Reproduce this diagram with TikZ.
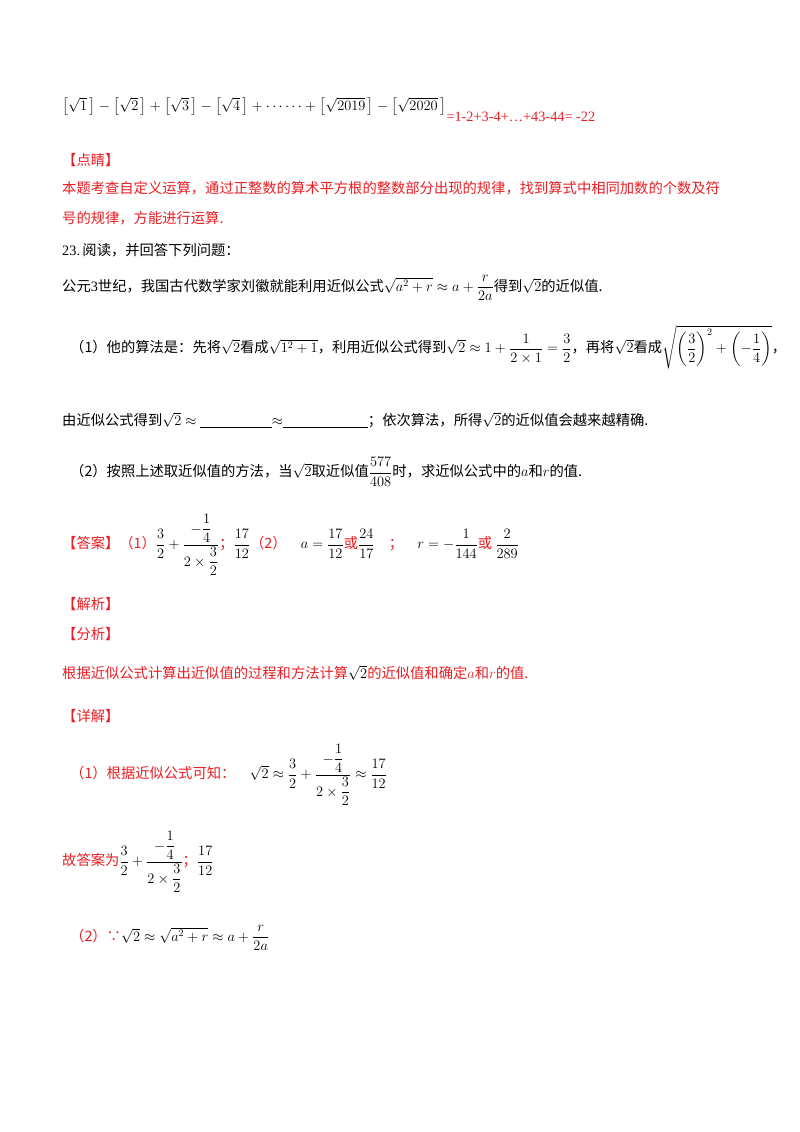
\documentclass[tikz,border=0pt]{standalone}
\usepackage{amsmath}
\usepackage{fontspec}
\setmainfont{Noto Sans CJK SC}
\newfontfamily\lat{Liberation Serif}
\definecolor{ared}{RGB}{235,30,35}
\newcommand{\fl}[1]{\left[\sqrt{#1}\,\right]}
\begin{document}
\begin{tikzpicture}[x=1pt,y=-1pt,
  txt/.style={anchor=west,inner sep=0pt,font=\fontsize{14.3}{17}\selectfont},
  rtxt/.style={txt,text=ared}]
\useasboundingbox[fill=white] (0,0) rectangle (800,1132);
\node[txt] (l1) at (62,106) {$\fl{1}-\fl{2}+\fl{3}-\fl{4}+\cdots\cdots+\fl{2019}-\fl{2020}$};
\node[rtxt,anchor=west] (l1b) at (l1.east|-0,117) {\lat =1-2+3-4+…+43-44= -22};
\node[rtxt] (dj) at (62,160) {【点睛】};
\node[rtxt] (t1) at (62,188) {本题考查自定义运算，通过正整数的算术平方根的整数部分出现的规律，找到算式中相同加数的个数及符};
\node[rtxt] (t2) at (62,218) {号的规律，方能进行运算.};
\node[txt] (q23) at (62,250) {{\lat 23.}\,阅读，并回答下列问题：};
\node[txt] (gy) at (62,288) {公元{\lat 3}世纪，我国古代数学家刘徽就能利用近似公式$\sqrt{a^2+r}\approx a+\dfrac{r}{2a}$得到$\sqrt2$的近似值.};
\node[txt] (p1) at (70,347) {（1）他的算法是：先将$\sqrt2$看成$\sqrt{1^2+1}$，利用近似公式得到$\sqrt2\approx1+\dfrac{1}{2\times1}=\dfrac32$，再将$\sqrt2$看成$\sqrt{\left(\dfrac32\right)^2+\left(-\dfrac14\right)}$，};
\node[txt] (p1b) at (62,420) {由近似公式得到$\sqrt2\approx$\ \underline{\hspace{72pt}}$\approx$\underline{\hspace{85pt}}；依次算法，所得$\sqrt2$的近似值会越来越精确.};
\node[txt] (p2) at (70,472) {（2）按照上述取近似值的方法，当$\sqrt2$取近似值$\dfrac{577}{408}$时，求近似公式中的$a$和$r$的值.};
\node[txt] (ans) at (62,545) {\textcolor{ared}{【答案】（1）}$\dfrac32+\dfrac{-\dfrac14}{2\times\dfrac32}$\textcolor{ared}{；}$\dfrac{17}{12}$\textcolor{ared}{（2）}\quad $a=\dfrac{17}{12}$\textcolor{ared}{或}$\dfrac{24}{17}$\quad\textcolor{ared}{；}\quad $r=-\dfrac{1}{144}$\textcolor{ared}{或}\ $\dfrac{2}{289}$};
\node[rtxt] (jx) at (62,604) {【解析】};
\node[rtxt] (fx) at (62,634) {【分析】};
\node[rtxt] (gj) at (62,673) {根据近似公式计算出近似值的过程和方法计算\textcolor{black}{$\sqrt2$}的近似值和确定$a$和$r$的值.};
\node[rtxt] (xj) at (62,716) {【详解】};
\node[txt] (d1) at (70,775) {\textcolor{ared}{（1）根据近似公式可知：}\quad$\sqrt2\approx\dfrac32+\dfrac{-\dfrac14}{2\times\dfrac32}\approx\dfrac{17}{12}$};
\node[txt] (d2) at (62,862) {\textcolor{ared}{故答案为}$\dfrac32+\dfrac{-\dfrac14}{2\times\dfrac32}$\textcolor{ared}{；}$\dfrac{17}{12}$};
\node[txt] (d3) at (70,938) {\textcolor{ared}{（2）∵}$\sqrt2\approx\sqrt{a^2+r}\approx a+\dfrac{r}{2a}$};
\end{tikzpicture}
\end{document}
